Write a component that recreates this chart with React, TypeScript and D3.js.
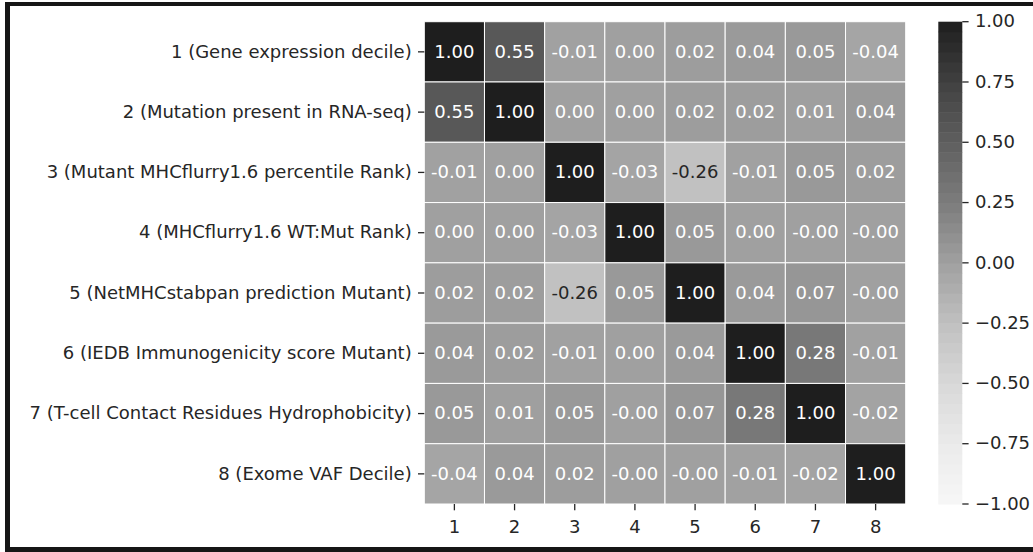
import React from "react";
import * as d3 from "d3";

const rowLabels: string[] = [
  "1 (Gene expression decile)",
  "2 (Mutation present in RNA-seq)",
  "3 (Mutant MHCflurry1.6 percentile Rank)",
  "4 (MHCflurry1.6 WT:Mut Rank)",
  "5 (NetMHCstabpan prediction Mutant)",
  "6 (IEDB Immunogenicity score Mutant)",
  "7 (T-cell Contact Residues Hydrophobicity)",
  "8 (Exome VAF Decile)",
];
const colLabels: string[] = ["1", "2", "3", "4", "5", "6", "7", "8"];

const row1: number[] = [1.0, 0.55, -0.01, 0.0, 0.02, 0.04, 0.05, -0.04];
const row2: number[] = [0.55, 1.0, 0.0, 0.0, 0.02, 0.02, 0.01, 0.04];
const row3: number[] = [-0.01, 0.0, 1.0, -0.03, -0.26, -0.01, 0.05, 0.02];
const row4: number[] = [0.0, 0.0, -0.03, 1.0, 0.05, 0.0, -0.001, -0.001];
const row5: number[] = [0.02, 0.02, -0.26, 0.05, 1.0, 0.04, 0.07, -0.001];
const row6: number[] = [0.04, 0.02, -0.01, 0.0, 0.04, 1.0, 0.28, -0.01];
const row7: number[] = [0.05, 0.01, 0.05, -0.001, 0.07, 0.28, 1.0, -0.02];
const row8: number[] = [-0.04, 0.04, 0.02, -0.001, -0.001, -0.01, -0.02, 1.0];
const matrix: number[][] = [row1, row2, row3, row4, row5, row6, row7, row8];

const cbarTicks: number[] = [-1, -0.75, -0.5, -0.25, 0, 0.25, 0.5, 0.75, 1];

// colormap stops (value -> grey level)
const cmapDomain = [-1, -0.75, -0.5, -0.25, 0, 0.25, 0.5, 0.75, 1];
const cmapRange = ["#f7f7f7", "#ebebeb", "#d8d8d8", "#c0c0c0", "#a0a0a0", "#7c7c7c", "#5e5e5e", "#404040", "#1e1e1e"];

const FONT = "DejaVu Sans, sans-serif";
const FS = 18;
const TICK = 6.3;
const PAD = 6.3;

const W = 1033;
const H = 552;
const hmLeft = 424.3;
const hmRight = 905.7;
const hmTop = 21.7;
const hmBottom = 504;
const cbLeft = 938.3;
const cbRight = 962.3;

function luminance(c: string): number {
  const rgb = d3.rgb(c);
  const f = (v: number) => {
    const s = v / 255;
    return s <= 0.03928 ? s / 12.92 : Math.pow((s + 0.055) / 1.055, 2.4);
  };
  return 0.2126 * f(rgb.r) + 0.7152 * f(rgb.g) + 0.0722 * f(rgb.b);
}

export default function App() {
  const color = d3.scaleLinear<string>().domain(cmapDomain).range(cmapRange).clamp(true);
  const x = d3.scaleBand<string>().domain(colLabels).range([hmLeft, hmRight]).padding(0);
  const y = d3.scaleBand<string>().domain(rowLabels).range([hmTop, hmBottom]).padding(0);
  const cy = d3.scaleLinear().domain([-1, 1]).range([hmBottom, hmTop]);
  const fmtTick = d3.format(".2f");

  const nBands = 48;
  const bands = d3.range(nBands).map((i) => {
    const v0 = -1 + (2 * i) / nBands;
    const v1 = -1 + (2 * (i + 1)) / nBands;
    return { v0, v1, c: color((v0 + v1) / 2) };
  });

  return (
    <svg
      width={W}
      height={H}
      style={{ position: "absolute", left: 0, top: 0, background: "#fff" }}
      fontFamily={FONT}
    >
      <rect x={0} y={0} width={W} height={H} fill="#fff" />
      {/* cells */}
      {matrix.map((row, ri) =>
        row.map((v, ci) => {
          const fill = color(v);
          const txt = luminance(fill) > 0.408 ? "#262626" : "#ffffff";
          const cx = x(colLabels[ci])!;
          const ry = y(rowLabels[ri])!;
          return (
            <g key={`c${ri}-${ci}`}>
              <rect
                x={cx}
                y={ry}
                width={x.bandwidth()}
                height={y.bandwidth()}
                fill={fill}
                stroke="#ffffff"
                strokeWidth={1}
              />
              <text
                x={cx + x.bandwidth() / 2}
                y={ry + y.bandwidth() / 2 - 0.8}
                textAnchor="middle"
                dominantBaseline="central"
                fontSize={FS}
                fill={txt}
              >
                {v.toFixed(2)}
              </text>
            </g>
          );
        })
      )}
      {/* y ticks */}
      {rowLabels.map((l) => {
        const yy = y(l)! + y.bandwidth() / 2;
        return (
          <g key={`yl${l}`}>
            <line x1={hmLeft - TICK} x2={hmLeft} y1={yy} y2={yy} stroke="#262626" strokeWidth={1.3} />
            <text x={hmLeft - TICK - PAD} y={yy - 0.8} textAnchor="end" dominantBaseline="central" fontSize={FS} fill="#262626">
              {l}
            </text>
          </g>
        );
      })}
      {/* x ticks */}
      {colLabels.map((l) => {
        const xx = x(l)! + x.bandwidth() / 2;
        return (
          <g key={`xl${l}`}>
            <line x1={xx} x2={xx} y1={hmBottom} y2={hmBottom + TICK} stroke="#262626" strokeWidth={1.3} />
            <text x={xx} y={533} textAnchor="middle" fontSize={FS} fill="#262626">
              {l}
            </text>
          </g>
        );
      })}
      {/* colorbar */}
      {bands.map((b, i) => (
        <rect
          key={`b${i}`}
          x={cbLeft}
          y={cy(b.v1)}
          width={cbRight - cbLeft}
          height={cy(b.v0) - cy(b.v1) + 0.5}
          fill={b.c}
        />
      ))}
      {cbarTicks.map((t) => (
        <g key={`ct${t}`}>
          <line x1={cbRight} x2={cbRight + TICK} y1={cy(t)} y2={cy(t)} stroke="#262626" strokeWidth={1.3} />
          <text x={cbRight + TICK + PAD} y={cy(t) - 0.8} dominantBaseline="central" fontSize={FS} fill="#262626">
            {fmtTick(t)}
          </text>
        </g>
      ))}
      {/* outer frame */}
      <rect x={5} y={2} width={5} height={550} fill="#161616" />
      <rect x={5} y={2} width={1028} height={4} fill="#161616" />
      <rect x={5} y={547} width={1028} height={5} fill="#161616" />
    </svg>
  );
}
